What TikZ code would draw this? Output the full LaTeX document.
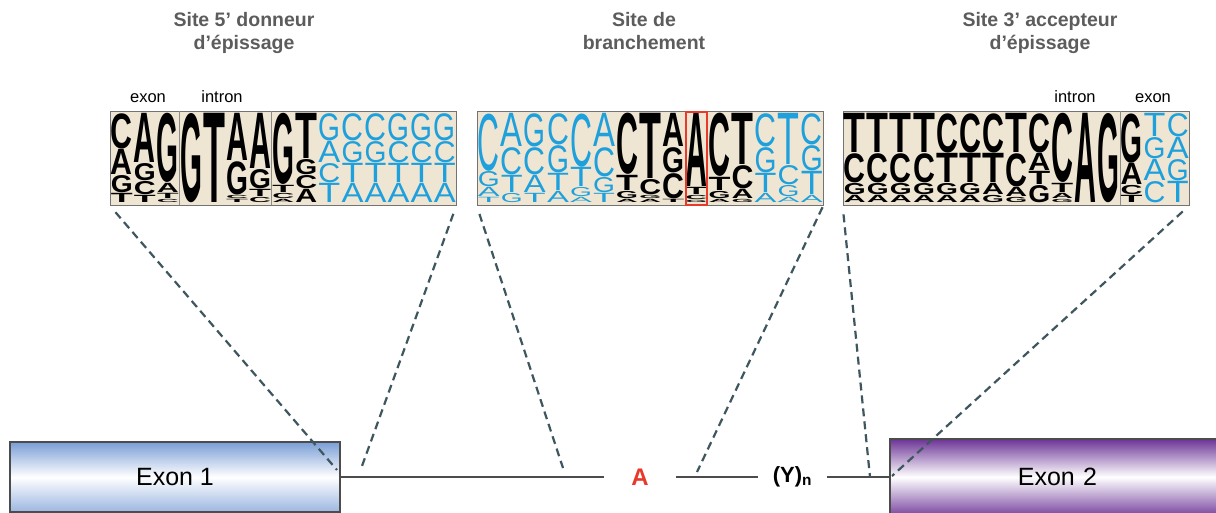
\documentclass[tikz,border=0pt]{standalone}
\usepackage{fontspec}
\setmainfont{Liberation Sans}
\usepackage{graphicx}
\usepackage{tikz}
\definecolor{logoblue}{RGB}{30,160,220}
\definecolor{logobg}{RGB}{239,229,211}
\definecolor{titlegray}{RGB}{92,92,92}
\definecolor{dashgray}{RGB}{62,86,94}
\definecolor{exblue}{RGB}{122,158,214}
\definecolor{expurple}{RGB}{108,52,150}
\definecolor{bpred}{RGB}{232,57,43}
% one sequence logo: name, left x, columns (stack bottom to top / style)
\newcommand{\seqlogo}[3]{%
  \foreach \stack/\kind [count=\ci] in {#3} {
    \gdef\ylev{203}
    \foreach \l/\h [count=\ki] in \stack {
      \pgfmathsetmacro{\hh}{\h-0.8}
      \node[\kind] (#1-\ci-\ki) at ({#2+(\ci-1)*23.07+0.6}, \ylev) {\resizebox*{21.9pt}{\hh pt}{\l}};
      \pgfmathsetmacro{\ynext}{\ylev-\h}
      \global\let\ylev\ynext
    }
  }
}

\begin{document}
\begin{tikzpicture}[x=1pt, y=-1pt,
    logobox/.style={draw=black!55, line width=0.8pt, fill=logobg, minimum width=346pt, minimum height=94pt, inner sep=0pt},
    blk/.style={inner sep=0pt, anchor=south west, text=black, font=\bfseries},
    blu/.style={inner sep=0pt, anchor=south west, text=logoblue, font=\mdseries},
    exon/.style={draw=black!70, line width=1.8pt, inner sep=0pt, font=\fontsize{25}{30}\selectfont},
    gene/.style={draw=black!70, line width=2pt},
    zoomline/.style={draw=dashgray, line width=2.2pt, dash pattern=on 8pt off 5pt, shorten <=9pt},
    title/.style={text=titlegray, font=\fontsize{19.5}{23}\selectfont\bfseries, align=center, anchor=north, inner sep=0pt},
    lab/.style={font=\fontsize{16.5}{20}\selectfont, anchor=base, inner sep=0pt}]
    \path[use as bounding box, fill=white] (0,0) rectangle (1216,512);

    % titles
    \node[title] (t1) at (244,12) {Site 5’ donneur\\d’épissage};
    \node[title] (t2) at (644,12) {Site de\\branchement};
    \node[title] (t3) at (1040,12) {Site 3’ accepteur\\d’épissage};

    \node[lab] (exA) at (148,102) {exon};
    \node[lab] (inA) at (222,102) {intron};
    \node[lab] (inC) at (1075,102) {intron};
    \node[lab] (exC) at (1153,102) {exon};

    % logo boxes
    \node[logobox] (don) at (283,158) {};
    \node[logobox] (br) at (650,158) {};
    \node[logobox] (acc) at (1016,158) {};
    \draw[black!45, line width=0.5pt] (179.2,111) -- (179.2,205);
    \draw[black!45, line width=0.5pt] (271.5,111) -- (271.5,205);
    \draw[black!45, line width=0.5pt] (1119.8,111) -- (1119.8,205);

    \seqlogo{don}{110}{{T/10,G/18,A/26,C/36}/blk, {T/8,C/14,G/18,A/50}/blk,
      {C/4,T/6,A/10,G/70}/blk, {G/90}/blk, {T/90}/blk, {T/4,C/4,G/34,A/48}/blk,
      {C/6,T/8,G/20,A/56}/blk, {A/4,C/6,T/8,G/72}/blk, {A/14,C/14,G/16,T/46}/blk,
      {T/20,C/20,A/22,G/28}/blu, {A/20,T/20,G/22,C/28}/blu, {A/20,T/20,G/22,C/28}/blu,
      {A/20,T/20,C/22,G/28}/blu, {A/20,T/20,C/22,G/28}/blu, {A/20,T/20,C/22,G/28}/blu}
    \seqlogo{br}{477}{{T/6,A/10,G/16,C/58}/blu, {G/10,T/18,C/28,A/34}/blu,
      {T/10,A/18,C/28,G/34}/blu, {A/12,T/18,G/28,C/32}/blu, {A/6,G/10,T/20,C/54}/blu,
      {T/10,G/16,C/30,A/34}/blu, {A/4,G/8,T/16,C/62}/blk, {A/4,G/4,C/16,T/66}/blk,
      {T/4,C/26,G/26,A/34}/blk, {G/3,C/5,T/8,A/74}/blk, {A/4,G/8,T/14,C/64}/blk,
      {G/4,A/10,C/24,T/52}/blk, {A/10,T/20,G/26,C/34}/blu, {A/6,G/12,C/20,T/52}/blu,
      {A/8,T/24,G/26,C/32}/blu}
    \seqlogo{acc}{843}{{A/8,G/12,C/30,T/40}/blk, {A/8,G/12,C/30,T/40}/blk,
      {A/8,G/12,C/30,T/40}/blk, {A/8,G/12,C/30,T/40}/blk, {A/8,G/12,T/30,C/40}/blk,
      {A/8,G/12,T/30,C/40}/blk, {G/8,A/12,T/30,C/40}/blk, {G/6,A/10,C/34,T/40}/blk,
      {G/18,T/14,A/18,C/40}/blk, {G/4,A/6,T/10,C/70}/blk, {A/90}/blk, {G/90}/blk,
      {T/8,C/10,A/22,G/50}/blk, {C/22,A/22,G/22,T/24}/blu, {T/22,G/22,A/22,C/24}/blu}

    \node[draw=bpred, line width=2pt, minimum width=21pt, minimum height=93pt, inner sep=0pt] (bpbox) at (696.5,158.5) {};

    % gene
    \node[exon, minimum width=330pt, minimum height=70pt, top color=exblue, bottom color=exblue!75, middle color=white] (ex1) at (175,477) {Exon 1};
    \node[exon, minimum width=335pt, minimum height=76pt, top color=expurple, bottom color=expurple!90, middle color=white] (ex2) at (1057.5,477) {Exon\,\,2};
    \node[text=bpred, font=\fontsize{24}{28}\selectfont\bfseries, inner xsep=27pt] (bp) at (640,477) {A};
    \node[font=\fontsize{22}{26}\selectfont\bfseries, inner xsep=14.5pt] (py) at (792.5,477) {(Y)\textsubscript{n}};
    \draw[gene] (ex1.east) -- (bp.west);
    \draw[gene] (bp.east) -- (py.west);
    \draw[gene] (py.east) -- (ex2.west);

    \coordinate (p1) at (337,470);
    \coordinate (p2) at (362,466);
    \coordinate (p3) at (563,468);
    \coordinate (p4) at (697,472);
    \coordinate (p5) at (870,477);
    \coordinate (p6) at (892,476);
    \draw[zoomline] (don.south west) -- (p1);
    \draw[zoomline] (don.south east) -- (p2);
    \draw[zoomline] (br.south west) -- (p3);
    \draw[zoomline, shorten <=2pt] (br.south east) -- (p4);
    \draw[zoomline] (acc.south west) -- (p5);
    \draw[zoomline] (acc.south east) -- (p6);
\end{tikzpicture}
\end{document}
